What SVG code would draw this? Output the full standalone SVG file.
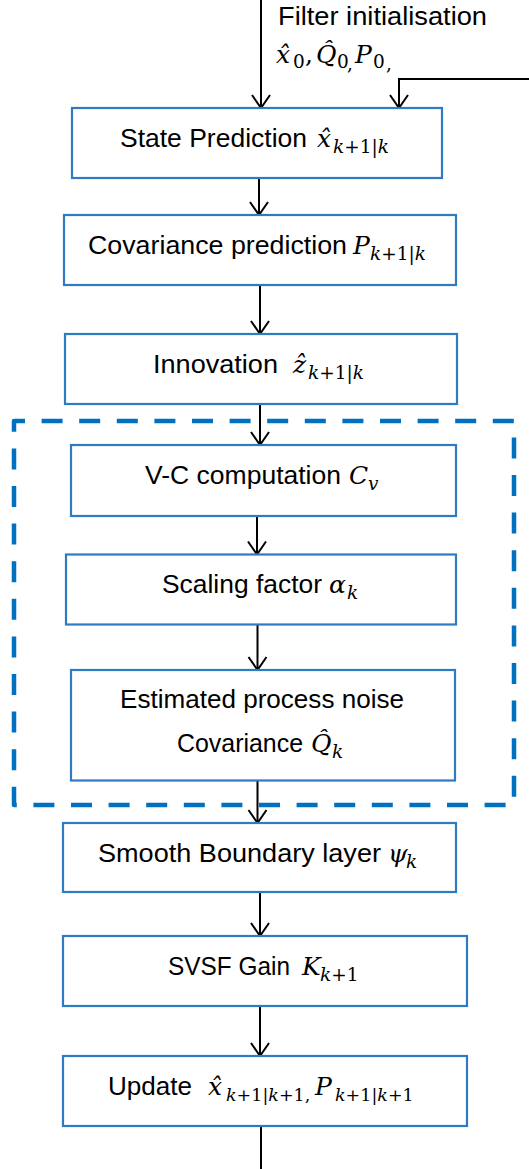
<svg xmlns="http://www.w3.org/2000/svg" width="529" height="1169" viewBox="0 0 529 1169">
<style>
.box{fill:#fff;stroke:#2E7BC4;stroke-width:2.2}
.t{font-family:"Liberation Sans",Arial,sans-serif;font-size:26.5px;fill:#000}
.m{font-family:"DejaVu Serif",serif;font-size:25px;font-style:italic;fill:#000}
.s{font-size:18.5px;font-style:normal}
.i{font-style:italic}
.u{font-style:normal}
.c{stroke:#000;stroke-width:2;fill:none}
.dash{fill:none;stroke:#0070C0;stroke-width:4.5;stroke-dasharray:21 16.6;stroke-linejoin:round}
</style>
<defs>
<marker id="ah" markerUnits="userSpaceOnUse" markerWidth="16" markerHeight="24" viewBox="-14 -12 16 24" refX="0" refY="0" orient="auto" overflow="visible">
<path d="M-13,-9 L0,0 L-13,9" fill="none" stroke="#000" stroke-width="2"/>
</marker>
</defs>

<g id="group-frame">
<path class="dash" d="M14,431 L14,421 L514,421 L514,805 L14,805 Z"/>
</g>

<g id="connectors">
<path class="c" d="M261,0 V108" marker-end="url(#ah)"/>
<path class="c" d="M529,79 H399 V108" marker-end="url(#ah)"/>
<path class="c" d="M259,178 V215" marker-end="url(#ah)"/>
<path class="c" d="M260,285 V334" marker-end="url(#ah)"/>
<path class="c" d="M260,404 V445" marker-end="url(#ah)"/>
<path class="c" d="M257,516 V554.5" marker-end="url(#ah)"/>
<path class="c" d="M257.5,624.5 V670" marker-end="url(#ah)"/>
<path class="c" d="M257.5,780.5 V823" marker-end="url(#ah)"/>
<path class="c" d="M260,892 V936" marker-end="url(#ah)"/>
<path class="c" d="M260,1006 V1056" marker-end="url(#ah)"/>
<path class="c" d="M261,1126 V1169"/>
</g>

<g id="init">
<text class="t" x="278" y="25" textLength="209" lengthAdjust="spacingAndGlyphs">Filter initialisation</text>
<text class="m" y="63"><tspan x="276">x̂</tspan><tspan class="s" x="293" y="68">0</tspan><tspan class="u" x="305" y="63">,</tspan><tspan x="316" y="63">Q̂</tspan><tspan class="s" x="337" y="68">0</tspan><tspan class="s" x="347" y="70">,</tspan><tspan x="355" y="63">P</tspan><tspan class="s" x="373" y="68">0</tspan><tspan class="s" x="386" y="70">,</tspan></text>
</g>

<g id="state-prediction">
<rect class="box" x="72" y="108" width="370" height="70"/>
<text class="t" x="120" y="147" textLength="187" lengthAdjust="spacingAndGlyphs">State Prediction</text>
<text class="m" y="147"><tspan x="317">x̂</tspan><tspan class="s" x="333" y="153"><tspan class="i">k</tspan>+1|<tspan class="i">k</tspan></tspan></text>
</g>

<g id="covariance-prediction">
<rect class="box" x="64" y="215" width="392" height="70"/>
<text class="t" x="88" y="254" textLength="259" lengthAdjust="spacingAndGlyphs">Covariance prediction</text>
<text class="m" y="254"><tspan x="353">P</tspan><tspan class="s" x="370" y="260"><tspan class="i">k</tspan>+1|<tspan class="i">k</tspan></tspan></text>
</g>

<g id="innovation">
<rect class="box" x="65" y="334" width="392" height="70"/>
<text class="t" x="153" y="373" textLength="125" lengthAdjust="spacingAndGlyphs">Innovation</text>
<text class="m" y="373"><tspan x="293">ẑ</tspan><tspan class="s" x="308" y="379"><tspan class="i">k</tspan>+1|<tspan class="i">k</tspan></tspan></text>
</g>

<g id="vc-computation">
<rect class="box" x="71" y="445" width="385" height="71"/>
<text class="t" x="145" y="484" textLength="196" lengthAdjust="spacingAndGlyphs">V-C computation</text>
<text class="m" y="484"><tspan x="349">C</tspan><tspan class="s i" x="368" y="490">v</tspan></text>
</g>

<g id="scaling-factor">
<rect class="box" x="66" y="554.5" width="390" height="70"/>
<text class="t" x="162" y="593" textLength="160" lengthAdjust="spacingAndGlyphs">Scaling factor</text>
<text class="m" y="593"><tspan x="329">α</tspan><tspan class="s i" x="347" y="599">k</tspan></text>
</g>

<g id="process-noise">
<rect class="box" x="71" y="670" width="384" height="110.5"/>
<text class="t" x="120" y="708" textLength="284" lengthAdjust="spacingAndGlyphs">Estimated process noise</text>
<text class="t" x="177" y="752" textLength="126" lengthAdjust="spacingAndGlyphs">Covariance</text>
<text class="m" y="752"><tspan x="311">Q̂</tspan><tspan class="s i" x="332" y="758">k</tspan></text>
</g>

<g id="boundary-layer">
<rect class="box" x="63" y="823" width="393" height="69"/>
<text class="t" x="98" y="862" textLength="283" lengthAdjust="spacingAndGlyphs">Smooth Boundary layer</text>
<text class="m" y="862"><tspan x="388">ψ</tspan><tspan class="s i" x="406" y="868">k</tspan></text>
</g>

<g id="svsf-gain">
<rect class="box" x="63" y="936" width="404" height="70"/>
<text class="t" x="168" y="975" textLength="122" lengthAdjust="spacingAndGlyphs">SVSF Gain</text>
<text class="m" y="975"><tspan x="302">K</tspan><tspan class="s" x="320" y="981"><tspan class="i">k</tspan>+1</tspan></text>
</g>

<g id="update">
<rect class="box" x="63" y="1056" width="404" height="70"/>
<text class="t" x="108" y="1095" textLength="84" lengthAdjust="spacingAndGlyphs">Update</text>
<text class="m" y="1095"><tspan x="208">x̂</tspan><tspan class="s" x="226" y="1101" style="font-size:17.5px"><tspan class="i">k</tspan>+1|<tspan class="i">k</tspan>+1,</tspan><tspan x="315" y="1095">P</tspan><tspan class="s" x="335" y="1101" style="font-size:17.5px"><tspan class="i">k</tspan>+1|<tspan class="i">k</tspan>+1</tspan></text>
</g>
</svg>
